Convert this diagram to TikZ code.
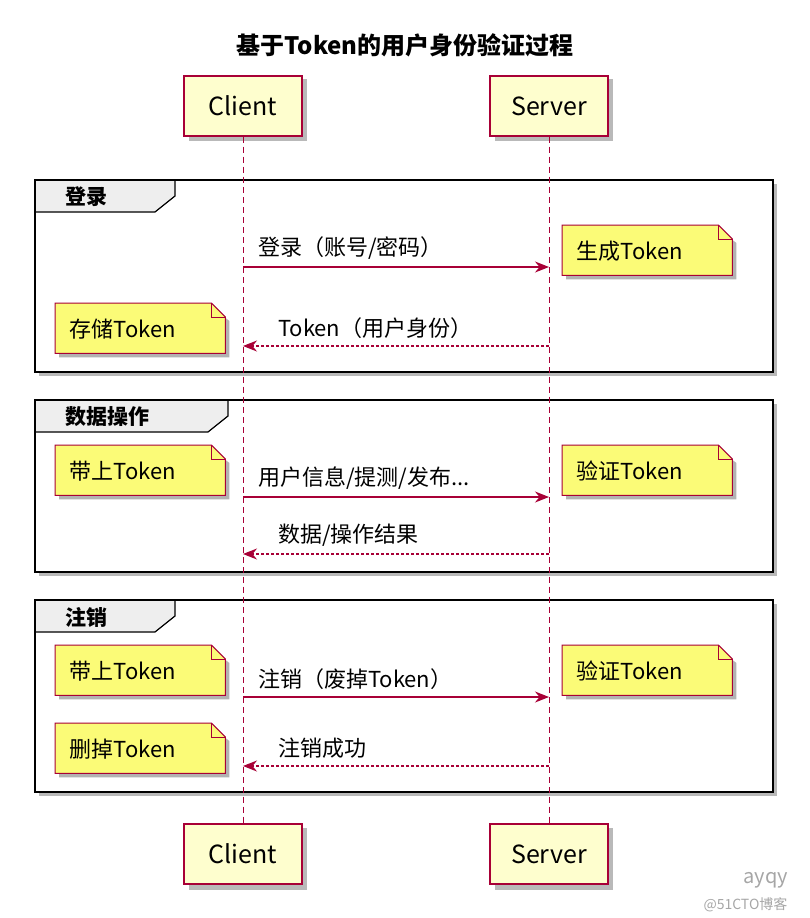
\documentclass[tikz,border=0pt]{standalone}
\usepackage{fontspec}
\setmainfont{Noto Sans CJK SC}
\usetikzlibrary{arrows.meta,positioning}
\definecolor{umlred}{HTML}{A80036}
\definecolor{umlyellow}{HTML}{FEFECE}
\definecolor{noteyellow}{HTML}{FBFB77}
\definecolor{tabgray}{HTML}{EEEEEE}
\tikzset{
  actor/.style={draw=umlred,line width=1.4pt,fill=umlyellow,minimum width=118pt,minimum height=60pt,font=\fontsize{25}{28}\selectfont},
  lifeline/.style={umlred,dashed,line width=0.9pt,dash pattern=on 6pt off 4pt},
  msg/.style={umlred,line width=1.2pt,-{Stealth[length=14pt,width=11pt]}},
  reply/.style={msg,dash pattern=on 3pt off 2pt},
  lbl/.style={font=\fontsize{22}{24}\selectfont,anchor=south west,inner sep=3pt},
  group/.style={draw=black,line width=2.4pt},
  tab/.style={fill=tabgray,draw=black,line width=1.2pt}
}
\newcommand{\notebox}[4]{% name, x, y (top-left), text
  \node[anchor=north west,minimum width=170pt,minimum height=50pt,inner sep=0pt] (#1) at (#2,#3) {};
  \fill[gray!60] ([shift={(4pt,-4pt)}]#1.north west) -- ([shift={(-14pt,-4pt)}]#1.north east) -- ([shift={(4pt,-18pt)}]#1.north east) -- ([shift={(4pt,-4pt)}]#1.south east) -- ([shift={(4pt,-4pt)}]#1.south west) -- cycle;
  \draw[umlred,line width=1pt,fill=noteyellow] (#1.north west) -- ([xshift=-14pt]#1.north east) -- ([yshift=-14pt]#1.north east) -- (#1.south east) -- (#1.south west) -- cycle;
  \draw[umlred,line width=1pt] ([xshift=-14pt]#1.north east) -- ([xshift=-14pt,yshift=-14pt]#1.north east) -- ([yshift=-14pt]#1.north east);
  \node[font=\fontsize{22}{24}\selectfont,anchor=west] at ([xshift=11pt,yshift=-1pt]#1.west) {#4};
}
\begin{document}
\begin{tikzpicture}[x=1pt,y=-1pt]
  \useasboundingbox (0,0) rectangle (810,918);
  \node[font=\bfseries\fontsize{24}{26}\selectfont] (title) at (405,45) {基于Token的用户身份验证过程};
  % participants
  \foreach \n/\x/\t in {ct/243/Client,sv/549/Server}{
    \fill[gray!55] (\x-54,79) rectangle (\x+64,141);
    \node[actor] (\n top) at (\x,106) {\t};
    \fill[gray!55] (\x-54,828) rectangle (\x+64,890);
    \node[actor] (\n bot) at (\x,854) {\t};
    \draw[lifeline] (\n top) -- (\n bot);
  }
  % groups
  \foreach \y/\h/\w/\t in {180/192/175/登录,400/172/228/数据操作,600/192/175/注销}{
    \fill[gray!55] (39,\y+4) rectangle (777,\y+\h+4);
    \draw[group,fill=white] (35,\y) rectangle (773,\y+\h);
    \draw[tab] (35,\y) -- (\w,\y) -- (\w,\y+16) -- (\w-20,\y+32) -- (35,\y+32) -- cycle;
    \node[font=\bfseries\fontsize{21}{24}\selectfont,anchor=west] at (62,\y+17) {\t};
    \draw[group] (35,\y) rectangle (773,\y+\h);
  }
  % lifeline redrawn over frames
  \draw[lifeline] (243,137) -- (243,823);
  \draw[lifeline] (549,137) -- (549,823);
  % group 1
  \coordinate (c1) at (243,267); \coordinate (s1) at (549,267);
  \draw[msg] (c1) -- (s1);
  \node[lbl] at ([xshift=12pt,yshift=4pt]c1) {登录（账号/密码）};
  \notebox{n1}{562}{225}{生成Token}
  \notebox{n2}{55}{303}{存储Token}
  \coordinate (s2) at (549,346); \coordinate (c2) at (243,346);
  \draw[reply] (s2) -- (c2);
  \node[lbl] at ([xshift=32pt,yshift=4pt]c2) {Token（用户身份）};
  % group 2
  \notebox{n3}{55}{445}{带上Token}
  \notebox{n4}{562}{445}{验证Token}
  \coordinate (c3) at (243,497); \coordinate (s3) at (549,497);
  \draw[msg] (c3) -- (s3);
  \node[lbl] at ([xshift=12pt,yshift=4pt]c3) {用户信息/提测/发布...};
  \coordinate (s4) at (549,554); \coordinate (c4) at (243,554);
  \draw[reply] (s4) -- (c4);
  \node[lbl] at ([xshift=32pt,yshift=4pt]c4) {数据/操作结果};
  % group 3
  \notebox{n5}{55}{645}{带上Token}
  \notebox{n6}{562}{645}{验证Token}
  \coordinate (c5) at (243,697); \coordinate (s5) at (549,697);
  \draw[msg] (c5) -- (s5);
  \node[lbl] at ([xshift=12pt,yshift=4pt]c5) {注销（废掉Token）};
  \notebox{n7}{55}{723}{删掉Token}
  \coordinate (s6) at (549,766); \coordinate (c6) at (243,766);
  \draw[reply] (s6) -- (c6);
  \node[lbl] at ([xshift=32pt,yshift=4pt]c6) {注销成功};
  % watermark
  \node[gray!70,font=\fontsize{20}{22}\selectfont,anchor=west] (wm1) at (740,880) {ayqy};
  \node[gray!70,font=\fontsize{14}{16}\selectfont,anchor=west] (wm2) at (700,905) {@51CTO博客};
\end{tikzpicture}
\end{document}
